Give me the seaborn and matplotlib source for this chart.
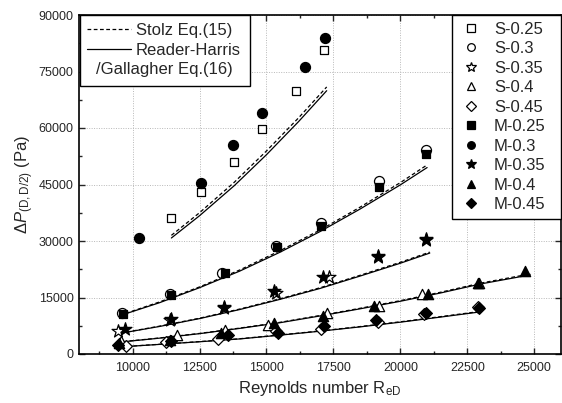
import matplotlib
matplotlib.use("Agg")
import matplotlib.pyplot as plt
from matplotlib.lines import Line2D
import seaborn as sns

# measured points (Reynolds number, pressure drop in Pa)
s025_x = [11450, 12550, 13800, 14850, 16100, 17150]
s025_y = [36000, 43000, 51000, 59700, 69800, 80700]
m030_x = [10250, 12550, 13750, 14850, 16450, 17200]
m030_y = [30800, 45500, 55600, 64000, 76300, 83800]

s030_x = [9600, 11400, 13350, 15350, 17050, 19200, 20950]
s030_y = [10800, 15800, 21600, 28600, 34900, 45900, 54200]
m025_x = [9650, 11450, 13450, 15400, 17050, 19200, 20950]
m025_y = [10600, 15600, 21600, 28300, 34000, 44300, 53200]

s035_x = [9450, 11400, 13400, 15350, 17350, 19150, 20950]
s035_y = [6200, 8900, 12200, 16300, 20500, 25800, 30500]
m035_x = [9700, 11450, 13400, 15300, 17100, 19150, 20950]
m035_y = [6700, 9300, 12600, 16600, 20500, 26000, 30200]

s040_x = [9550, 11650, 13450, 15050, 17250, 19200, 20800, 22950]
s040_y = [3500, 5000, 6300, 7700, 11000, 12800, 15900, 18900]
m040_x = [9500, 11400, 13300, 15300, 17100, 19000, 21050, 22900, 24650]
m040_y = [3000, 3700, 5500, 8100, 10100, 12800, 15900, 18900, 22000]

s045_x = [9750, 11250, 13200, 15350, 17050, 19150, 20900, 22900]
s045_y = [2200, 3100, 4000, 6200, 6600, 8600, 10600, 12500]
m045_x = [9450, 11450, 13550, 15450, 17150, 19100, 20950, 22950]
m045_y = [2400, 3400, 5000, 5700, 7400, 9000, 11000, 12300]

# correlation curves: Reader-Harris/Gallagher (solid) and Stolz (dashed)
c1_x = [11450, 12500, 13800, 15000, 16200, 17250]
c1_rhg = [30800, 36700, 44700, 52900, 61700, 69900]
c1_stz = [31500, 37500, 45600, 53900, 62700, 70900]

c2_x = [9750, 11000, 12500, 14000, 15500, 17000, 18500, 20000, 21000]
c2_rhg = [10700, 13600, 17600, 22000, 27000, 32500, 38500, 44900, 49500]
c2_stz = [10800, 13800, 17800, 22300, 27400, 32900, 39000, 45500, 50200]

c3_x = [9550, 11000, 12500, 14000, 15500, 17000, 18500, 20000, 21100]
c3_rhg = [5500, 7300, 9400, 11800, 14500, 17400, 20700, 24100, 26800]
c3_stz = [5550, 7380, 9500, 11930, 14650, 17580, 20900, 24350, 27050]

c4_x = [9650, 11000, 12500, 14000, 15500, 17000, 18500, 20000, 21500, 23000, 24850]
c4_rhg = [3250, 4200, 5400, 6800, 8300, 10100, 12000, 14000, 16200, 18600, 21000]
c4_stz = [3290, 4250, 5460, 6880, 8400, 10220, 12140, 14160, 16390, 18820, 21250]

c5_x = [9800, 11000, 12500, 14000, 15500, 17000, 18500, 20000, 21500, 22900]
c5_rhg = [2000, 2550, 3250, 4000, 5000, 6050, 7200, 8450, 9800, 11100]
c5_stz = [2020, 2580, 3290, 4050, 5060, 6120, 7290, 8550, 9920, 11230]

sns.set_style("ticks")
plt.rcParams['font.family'] = ['Liberation Sans', 'DejaVu Sans']
plt.rcParams['mathtext.fontset'] = 'custom'
plt.rcParams['mathtext.rm'] = 'Liberation Sans'
plt.rcParams['mathtext.it'] = 'Liberation Sans:italic'

fig = plt.figure(figsize=(5.62, 4.03), dpi=100)
ax = fig.add_axes([79 / 562, 49 / 403, 482 / 562, 339 / 403])

# curves
for cx, rhg, stz in [(c1_x, c1_rhg, c1_stz), (c2_x, c2_rhg, c2_stz), (c3_x, c3_rhg, c3_stz),
                     (c4_x, c4_rhg, c4_stz), (c5_x, c5_rhg, c5_stz)]:
    sns.lineplot(x=cx, y=stz, ax=ax, color='black', lw=0.9, linestyle=(0, (3, 2)))
    sns.lineplot(x=cx, y=rhg, ax=ax, color='black', lw=0.9)

# markers: (x, y, label, marker, face, size)
series = [
    (s025_x, s025_y, 'S-0.25', 's', 'white', 40),
    (s030_x, s030_y, 'S-0.3', 'o', 'white', 52),
    (s035_x, s035_y, 'S-0.35', '*', 'white', 95),
    (s040_x, s040_y, 'S-0.4', '^', 'white', 55),
    (s045_x, s045_y, 'S-0.45', 'D', 'white', 36),
    (m025_x, m025_y, 'M-0.25', 's', 'black', 40),
    (m030_x, m030_y, 'M-0.3', 'o', 'black', 52),
    (m035_x, m035_y, 'M-0.35', '*', 'black', 95),
    (m040_x, m040_y, 'M-0.4', '^', 'black', 55),
    (m045_x, m045_y, 'M-0.45', 'D', 'black', 36),
]
marker_handles = []
for sx, sy, lab, mk, fc, sz in series:
    sns.scatterplot(x=sx, y=sy, ax=ax, marker=mk, color=fc, edgecolor='black',
                    linewidth=0.9, s=sz, zorder=3)
    marker_handles.append(Line2D([], [], linestyle='none', marker=mk, markersize=7 if mk == '*' else 5.5,
                                 markerfacecolor=fc, markeredgecolor='black',
                                 markeredgewidth=0.9, label=lab))

ax.set_xlim(8000, 26000)
ax.set_ylim(0, 90000)
ax.set_xticks(range(10000, 25001, 2500))
ax.set_xticks(range(8750, 26000, 2500), minor=True)
ax.set_yticks(range(0, 90001, 15000))
ax.set_yticks(range(7500, 90000, 15000), minor=True)
ax.tick_params(which='both', direction='in', top=True, right=True, labelsize=9, width=1)
ax.tick_params(which='major', length=4)
ax.tick_params(which='minor', length=2.5)
ax.tick_params(axis='x', which='major', pad=6)
ax.tick_params(axis='y', which='major', pad=4)
ax.grid(True, which='major', color='#b8b8b8', linestyle=(0, (1, 1.5)), lw=0.7)
for sp in ax.spines.values():
    sp.set_linewidth(1.2)
    sp.set_color('black')

ax.set_xlabel(r'Reynolds number R$_{\mathrm{eD}}$', fontsize=12, labelpad=3)
ax.set_ylabel(r'$\mathit{\Delta P}_{\mathrm{(D,D/2)}}$ (Pa)', fontsize=12, labelpad=2)

# legend for the curves
line_handles = [
    Line2D([], [], color='black', lw=0.9, linestyle=(0, (3, 2)), label='Stolz Eq.(15)'),
    Line2D([], [], color='black', lw=0.9, label='Reader-Harris'),
    Line2D([], [], color='none', lw=0, label=' '),
]
leg1 = ax.legend(handles=line_handles, loc='upper left', bbox_to_anchor=(0.002, 0, 0.353, 1.0),
                 mode='expand', borderaxespad=0, fontsize=12,
                 frameon=True, fancybox=False, edgecolor='black', framealpha=1,
                 handlelength=2.6, handletextpad=0.3, labelspacing=0.34, borderpad=0.45)
leg1.get_frame().set_linewidth(1)
ax.add_artist(leg1)
ax.text(0.035, 0.838, '/Gallagher Eq.(16)', transform=ax.transAxes, fontsize=12,
        va='center', ha='left', zorder=10)

leg2 = ax.legend(handles=marker_handles, loc='upper right', bbox_to_anchor=(0.774, 0, 0.226, 1.0),
                 mode='expand', borderaxespad=0, fontsize=12,
                 frameon=True, fancybox=False, edgecolor='black', framealpha=1,
                 handlelength=1.47, handletextpad=0.64, labelspacing=0.27, borderpad=0.4)
leg2.get_frame().set_linewidth(1)

fig.savefig('out.png', dpi=100)
